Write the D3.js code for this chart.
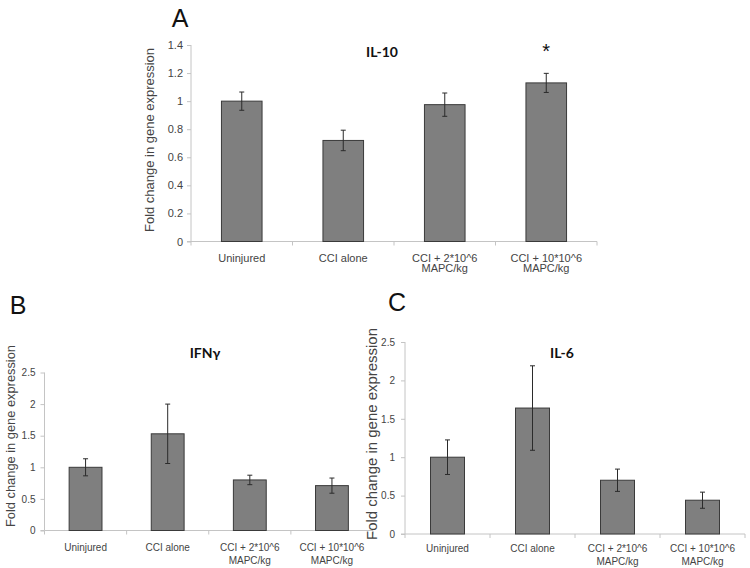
<!DOCTYPE html>
<html>
<head>
<meta charset="utf-8">
<script src="https://cdn.jsdelivr.net/npm/d3@7"></script>
<style>
  html, body { margin: 0; padding: 0; background: #ffffff; }
  svg { display: block; }
</style>
</head>
<body>
<svg id="chart" width="750" height="568"></svg>
<script>
// ---- Data ----
const categories = [
  ["Uninjured"],
  ["CCI alone"],
  ["CCI + 2*10^6", "MAPC/kg"],
  ["CCI + 10*10^6", "MAPC/kg"]
];

const il10Values = [1.0, 0.72, 0.975, 1.13];
const il10Errors = [0.065, 0.073, 0.083, 0.068];
const il10Ticks = [0, 0.2, 0.4, 0.6, 0.8, 1, 1.2, 1.4];

const ifngValues = [1.0, 1.53, 0.80, 0.71];
const ifngErrors = [0.135, 0.47, 0.075, 0.12];
const ifngTicks = [0, 0.5, 1, 1.5, 2, 2.5];

const il6Values = [1.0, 1.64, 0.70, 0.44];
const il6Errors = [0.225, 0.55, 0.145, 0.105];
const il6Ticks = [0, 0.5, 1, 1.5, 2, 2.5];

const yAxisTitle = "Fold change in gene expression";

// ---- Drawing ----
const svg = d3.select("#chart");
const AXIS_COLOR = "#c4c4c4";
const TEXT_COLOR = "#444444";
const BAR_FILL = "#7f7f7f";
const BAR_STROKE = "#3a3a3a";
const ERR_COLOR = "#2b2b2b";

function drawPanel(cfg) {
  const g = svg.append("g");
  const x = d3.scaleBand()
    .domain(d3.range(categories.length))
    .range(cfg.xRange)
    .paddingInner(0.6)
    .paddingOuter(0.3);
  const y = d3.scaleLinear()
    .domain([0, cfg.yMax])
    .range(cfg.yRange);

  // y axis
  const yAxis = d3.axisLeft(y)
    .tickValues(cfg.ticks)
    .tickSize(4)
    .tickPadding(cfg.tickPad)
    .tickFormat(d3.format("~g"));
  const ya = g.append("g")
    .attr("transform", `translate(${cfg.xRange[0]},0)`)
    .call(yAxis);
  ya.select(".domain").attr("stroke", AXIS_COLOR).attr("d", `M-4,${cfg.yRange[0]}H0V${cfg.yRange[1]}`);
  ya.selectAll(".tick line").attr("stroke", AXIS_COLOR);
  ya.selectAll(".tick text")
    .attr("fill", TEXT_COLOR)
    .style("font-family", "'Liberation Sans', Arial, sans-serif")
    .style("font-size", cfg.tickFont + "px");

  // x axis line + boundary ticks
  const step = x.step();
  const xa = g.append("g");
  xa.append("line")
    .attr("x1", cfg.xRange[0]).attr("x2", cfg.xRange[1])
    .attr("y1", y(0)).attr("y2", y(0))
    .attr("stroke", AXIS_COLOR);
  xa.selectAll("line.bt")
    .data(d3.range(categories.length + 1))
    .join("line")
    .attr("class", "bt")
    .attr("x1", i => cfg.xRange[0] + i * step)
    .attr("x2", i => cfg.xRange[0] + i * step)
    .attr("y1", y(0)).attr("y2", y(0) + 4)
    .attr("stroke", AXIS_COLOR);

  // category labels
  const lab = g.append("g")
    .style("font-family", "'Liberation Sans', Arial, sans-serif")
    .style("font-size", cfg.catFont + "px")
    .attr("fill", TEXT_COLOR)
    .attr("text-anchor", "middle");
  categories.forEach((lines, i) => {
    const t = lab.append("text");
    lines.forEach((ln, j) => {
      t.append("tspan")
        .attr("x", x(i) + x.bandwidth() / 2)
        .attr("y", cfg.catY + j * cfg.catLine)
        .text(ln);
    });
  });

  // bars
  g.selectAll("rect.bar")
    .data(cfg.values)
    .join("rect")
    .attr("class", "bar")
    .attr("x", (d, i) => x(i))
    .attr("width", x.bandwidth())
    .attr("y", d => y(d))
    .attr("height", d => y(0) - y(d))
    .attr("fill", BAR_FILL)
    .attr("stroke", BAR_STROKE)
    .attr("stroke-width", 1);

  // error bars
  const eb = g.append("g").attr("stroke", ERR_COLOR).attr("stroke-width", 1);
  cfg.values.forEach((v, i) => {
    const cx = x(i) + x.bandwidth() / 2;
    const hi = y(v + cfg.errors[i]);
    const lo = y(v - cfg.errors[i]);
    eb.append("line").attr("x1", cx).attr("x2", cx).attr("y1", hi).attr("y2", lo);
    eb.append("line").attr("x1", cx - 2.5).attr("x2", cx + 2.5).attr("y1", hi).attr("y2", hi);
    eb.append("line").attr("x1", cx - 2.5).attr("x2", cx + 2.5).attr("y1", lo).attr("y2", lo);
  });

  // chart title
  g.append("text")
    .attr("x", cfg.titleX).attr("y", cfg.titleY)
    .attr("text-anchor", "middle")
    .style("font-family", "Lato, 'Open Sans', sans-serif")
    .style("font-weight", "bold")
    .style("font-size", "14px")
    .attr("fill", "#111")
    .text(cfg.title);

  // y axis title
  g.append("text")
    .attr("transform", `translate(${cfg.yTitleX},${cfg.yTitleY}) rotate(-90)`)
    .attr("text-anchor", "middle")
    .attr("textLength", cfg.yTitleLen)
    .attr("lengthAdjust", "spacingAndGlyphs")
    .style("font-family", "'Liberation Sans', Arial, sans-serif")
    .style("font-size", cfg.yTitleFont + "px")
    .attr("fill", TEXT_COLOR)
    .text(yAxisTitle);

  // panel letter
  g.append("text")
    .attr("x", cfg.letterX).attr("y", cfg.letterY)
    .attr("text-anchor", "middle")
    .style("font-family", "'Liberation Sans', Arial, sans-serif")
    .style("font-size", "25px")
    .attr("fill", "#111")
    .text(cfg.letter);

  return { g, x, y };
}

const A = drawPanel({
  values: il10Values, errors: il10Errors, ticks: il10Ticks, yMax: 1.4,
  xRange: [191, 597], yRange: [241.5, 45],
  tickFont: 11, tickPad: 4, catFont: 11, catY: 261.5, catLine: 10.7,
  title: "IL-10", titleX: 382, titleY: 57,
  yTitleX: 154, yTitleY: 140, yTitleLen: 184, yTitleFont: 13,
  letter: "A", letterX: 180, letterY: 27
});
// significance marker over the last IL-10 bar
A.g.append("text")
  .attr("x", A.x(3) + A.x.bandwidth() / 2)
  .attr("y", 58)
  .attr("text-anchor", "middle")
  .style("font-family", "'Liberation Sans', Arial, sans-serif")
  .style("font-size", "20px")
  .attr("fill", "#111")
  .text("*");

drawPanel({
  values: ifngValues, errors: ifngErrors, ticks: ifngTicks, yMax: 2.5,
  xRange: [44.5, 373], yRange: [530.5, 372.5],
  tickFont: 10, tickPad: 5, catFont: 10, catY: 550.5, catLine: 13,
  title: "IFN\u03b3", titleX: 205, titleY: 358,
  yTitleX: 15, yTitleY: 436, yTitleLen: 182, yTitleFont: 13,
  letter: "B", letterX: 18, letterY: 314
});

drawPanel({
  values: il6Values, errors: il6Errors, ticks: il6Ticks, yMax: 2.5,
  xRange: [405, 745], yRange: [534, 342],
  tickFont: 10, tickPad: 6, catFont: 10, catY: 551.5, catLine: 13,
  title: "IL-6", titleX: 562, titleY: 358,
  yTitleX: 377, yTitleY: 434, yTitleLen: 212, yTitleFont: 14,
  letter: "C", letterX: 397, letterY: 311
});
</script>
</body>
</html>
